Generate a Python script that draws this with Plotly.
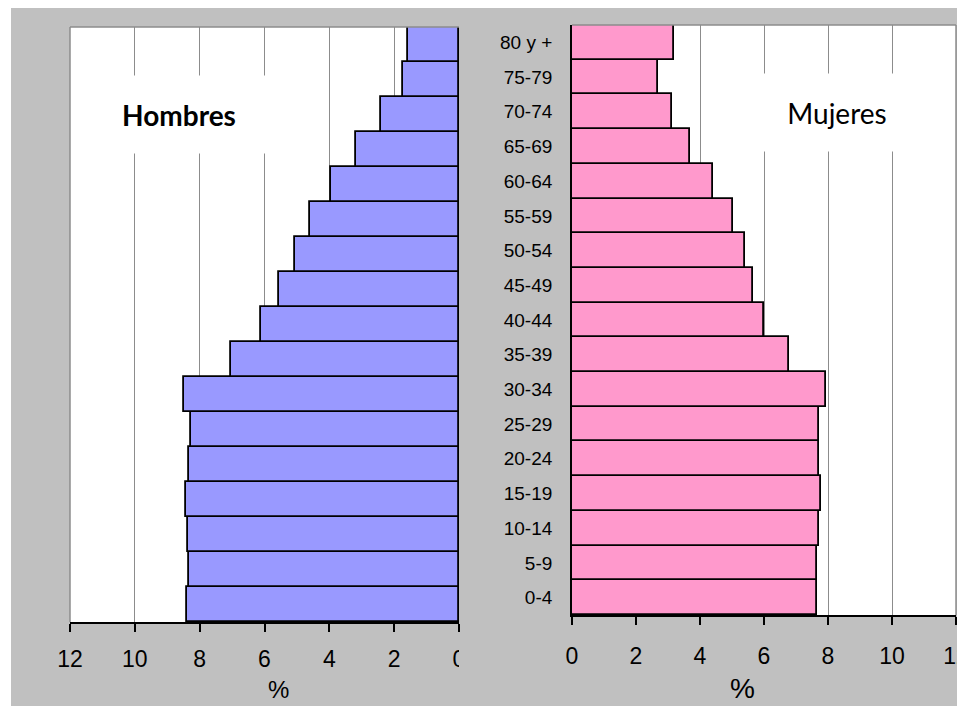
import plotly.graph_objects as go

ages = ["0-4", "5-9", "10-14", "15-19", "20-24", "25-29", "30-34", "35-39", "40-44",
        "45-49", "50-54", "55-59", "60-64", "65-69", "70-74", "75-79", "80 y +"]
hombres = [8.40, 8.33, 8.36, 8.43, 8.33, 8.27, 8.48, 7.04, 6.10, 5.55, 5.05, 4.61,
           3.95, 3.17, 2.40, 1.73, 1.56]
mujeres = [7.66, 7.66, 7.72, 7.78, 7.72, 7.72, 7.94, 6.78, 6.00, 5.66, 5.41, 5.03,
           4.41, 3.69, 3.12, 2.69, 3.19]
x_ticks = [0, 2, 4, 6, 8, 10, 12]

# the page puts the figure 8 px from the top-left corner
OFF = 8
W, H = 965 - OFF, 706 - OFF
def px(x):
    return (x - OFF) / W
def py(y):
    return 1 - (y - OFF) / H

fig = go.Figure()
fig.add_trace(go.Bar(y=ages, x=hombres, orientation="h", xaxis="x", yaxis="y",
                     marker=dict(color="#9999FF", line=dict(color="black", width=1.8)),
                     showlegend=False, hoverinfo="skip"))
fig.add_trace(go.Bar(y=ages, x=mujeres, orientation="h", xaxis="x2", yaxis="y2",
                     marker=dict(color="#FF99CC", line=dict(color="black", width=1.8)),
                     showlegend=False, hoverinfo="skip"))

tickfont = dict(family="Liberation Sans", size=23, color="black")
common_x = dict(tickvals=x_ticks, ticktext=[str(v) for v in x_ticks], showgrid=True,
                gridcolor="#8c8c8c", gridwidth=1, zeroline=False, showline=True,
                linecolor="black", linewidth=1.8, ticks="outside", ticklen=8,
                tickcolor="black", tickwidth=1.5, tickfont=tickfont, automargin=False,
                ticklabeloverflow="allow")

fig.update_layout(
    width=W, height=H, margin=dict(l=0, r=0, t=0, b=0, autoexpand=False),
    paper_bgcolor="#C0C0C0", plot_bgcolor="white", bargap=0,
    xaxis=dict(domain=[px(70), px(459)], range=[12, 0], anchor="y",
               ticklabelstandoff=7, **common_x),
    xaxis2=dict(domain=[px(572), px(956)], range=[0, 12], anchor="y2",
                ticklabelstandoff=11, **common_x),
    yaxis=dict(domain=[py(622), py(27)], anchor="x", type="category",
               categoryorder="array", categoryarray=ages, showticklabels=False,
               showgrid=False, zeroline=False, showline=False, ticks="", automargin=False),
    yaxis2=dict(domain=[py(615), py(25)], anchor="x2", type="category",
                categoryorder="array", categoryarray=ages, showgrid=False,
                zeroline=False, showline=True, linecolor="black", linewidth=1.8,
                ticks="", ticklabelstandoff=14, automargin=False,
                tickfont=dict(family="Liberation Sans", size=19, color="black")),
)

border = dict(color="#8c8c8c", width=1.5)
shapes = [
    # white strip on the left edge
    dict(type="rect", xref="paper", yref="paper", x0=0, x1=px(11), y0=0, y1=1,
         fillcolor="white", line=dict(width=0), layer="below"),
    # top and outer borders of both panels
    dict(type="line", xref="x domain", yref="y domain", x0=0, x1=1, y0=1, y1=1, line=border),
    dict(type="line", xref="x domain", yref="y domain", x0=0, x1=0, y0=0, y1=1, line=border),
    dict(type="line", xref="x2 domain", yref="y2 domain", x0=0, x1=1, y0=1, y1=1, line=border),
    dict(type="line", xref="x2 domain", yref="y2 domain", x0=1, x1=1, y0=0, y1=1, line=border),
    # clip of the left panel's "0" label
    dict(type="rect", xref="paper", yref="paper", x0=px(459), x1=px(545),
         y0=py(675), y1=py(638), fillcolor="#C0C0C0", line=dict(width=0), layer="above"),
]
fig.update_layout(shapes=shapes)

annotations = [
    dict(text="<b>Hombres</b>", xref="paper", yref="paper", x=px(179), y=py(114),
         xanchor="center", yanchor="middle",
         showarrow=False, font=dict(family="Lato", size=28, color="black"),
         bgcolor="white", width=190, height=75),
    dict(text="Mujeres", xref="paper", yref="paper", x=px(837), y=py(112),
         xanchor="center", yanchor="middle",
         showarrow=False, font=dict(family="Lato", size=28, color="black"),
         bgcolor="white", width=190, height=75),
    dict(text="%", xref="paper", yref="paper", x=px(278), y=py(689),
         xanchor="center", yanchor="middle",
         showarrow=False, font=dict(family="Liberation Sans", size=24, color="black")),
    dict(text="%", xref="paper", yref="paper", x=px(742), y=py(688),
         xanchor="center", yanchor="middle",
         showarrow=False, font=dict(family="Liberation Sans", size=28, color="black")),
]
fig.update_layout(annotations=annotations)

fig.write_html("out.html")
